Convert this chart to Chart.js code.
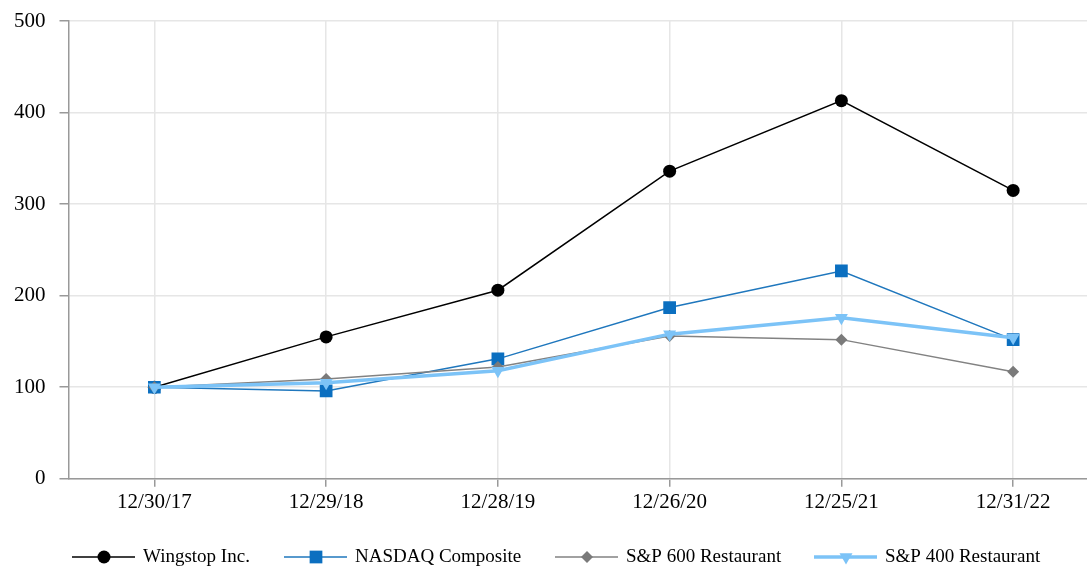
<!DOCTYPE html>
<html>
<head>
<meta charset="utf-8">
<script src="https://cdn.jsdelivr.net/npm/chart.js@4/dist/chart.umd.min.js"></script>
<style>
  html, body { margin: 0; padding: 0; background: #fff; }
  #wrap { width: 1087px; height: 567px; }
</style>
</head>
<body>
<div id="wrap"><canvas id="myChart"></canvas></div>
<script>
  // values (cumulative total return, base 100)
  const labels = ['12/30/17', '12/29/18', '12/28/19', '12/26/20', '12/25/21', '12/31/22'];
  const wingstop = [100, 155, 206, 336, 413, 315];
  const nasdaq = [100, 96, 131, 187, 227, 152];
  const sp600 = [100, 109, 122, 156, 152, 117];
  const sp400 = [100, 105, 118, 158, 176, 154];
  const yTicks = [0, 100, 200, 300, 400, 500];

  const toPoints = arr => arr.map((v, i) => ({ x: i, y: v }));
  const FAMILY = '"Liberation Serif", "Times New Roman", serif';
  const FONT = { family: FAMILY, size: 21 };

  // legend: line + marker + text, drawn under the x axis
  const legendStarts = [72, 284, 555, 814];
  const lineLegend = {
    id: 'lineLegend',
    afterDraw(chart) {
      const ctx = chart.ctx;
      const y = 557;
      ctx.save();
      chart.data.datasets.forEach((ds, i) => {
        const x0 = legendStarts[i];
        ctx.strokeStyle = ds.borderColor;
        ctx.lineWidth = ds.borderWidth;
        ctx.beginPath();
        ctx.moveTo(x0, y);
        ctx.lineTo(x0 + 63, y);
        ctx.stroke();
        ctx.fillStyle = ds.pointBackgroundColor;
        ctx.strokeStyle = ds.pointBackgroundColor;
        Chart.helpers.drawPoint(ctx, {
          pointStyle: ds.pointStyle,
          rotation: ds.pointRotation || 0,
          radius: ds.pointRadius,
          borderWidth: 0
        }, x0 + 32, y);
        ctx.fillStyle = '#000';
        ctx.font = '19px ' + FAMILY;
        ctx.textBaseline = 'middle';
        ctx.textAlign = 'left';
        ctx.fillText(ds.label, x0 + 71, y);
      });
      ctx.restore();
    }
  };

  let myChart = document.getElementById('myChart').getContext('2d');

  let returnChart = new Chart(myChart, {
    type: 'line',
    data: {
      datasets: [{
        label: 'Wingstop Inc.',
        data: toPoints(wingstop),
        borderColor: '#000000',
        backgroundColor: '#000000',
        pointBackgroundColor: '#000000',
        borderWidth: 1.5,
        pointStyle: 'circle',
        pointRadius: 6.5,
        pointBorderWidth: 0,
        order: 3
      }, {
        label: 'NASDAQ Composite',
        data: toPoints(nasdaq),
        borderColor: '#1f77bd',
        backgroundColor: '#0b6fc0',
        pointBackgroundColor: '#0b6fc0',
        borderWidth: 1.5,
        pointStyle: 'rect',
        pointRadius: 9,
        pointBorderWidth: 0,
        order: 2
      }, {
        label: 'S&P 600 Restaurant',
        data: toPoints(sp600),
        borderColor: '#828282',
        backgroundColor: '#7a7a7a',
        pointBackgroundColor: '#7a7a7a',
        borderWidth: 1.5,
        pointStyle: 'rectRot',
        pointRadius: 6,
        pointBorderWidth: 0,
        order: 1
      }, {
        label: 'S&P 400 Restaurant',
        data: toPoints(sp400),
        borderColor: '#7cc3f7',
        backgroundColor: '#7cc3f7',
        pointBackgroundColor: '#7cc3f7',
        borderWidth: 3.5,
        pointStyle: 'triangle',
        pointRotation: 180,
        pointRadius: 7.5,
        pointBorderWidth: 0,
        order: 0
      }]
    },
    options: {
      responsive: true,
      maintainAspectRatio: false,
      animation: false,
      layout: { autoPadding: false, padding: { top: 21, right: 0, left: 0, bottom: 49 } },
      plugins: {
        legend: { display: false },
        tooltip: { enabled: false }
      },
      scales: {
        x: {
          type: 'linear',
          min: -0.5,
          max: 5.43,
          afterBuildTicks: scale => { scale.ticks = labels.map((_, i) => ({ value: i })); },
          afterFit: scale => { scale.paddingRight = 0; scale.paddingLeft = 0; },
          ticks: {
            callback: v => labels[v],
            color: '#000',
            font: FONT,
            padding: 3,
            maxRotation: 0,
            autoSkip: false
          },
          grid: { color: '#e6e6e6', lineWidth: 1.5, tickColor: '#999', tickLength: 8 },
          border: { color: '#999', width: 1.5 }
        },
        y: {
          min: 0,
          max: 500,
          afterBuildTicks: scale => { scale.ticks = yTicks.map(v => ({ value: v })); },
          afterFit: scale => { scale.paddingTop = 0; scale.paddingBottom = 0; },
          ticks: {
            color: '#000',
            font: FONT,
            padding: 14
          },
          grid: { color: '#e6e6e6', lineWidth: 1.5, tickColor: '#999', tickLength: 9 },
          border: { color: '#999', width: 1.5 }
        }
      }
    },
    plugins: [lineLegend]
  });
</script>
</body>
</html>
